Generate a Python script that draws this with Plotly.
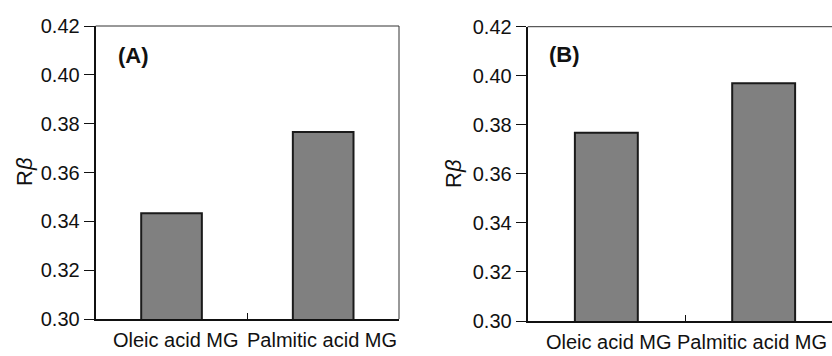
import plotly.graph_objects as go

categories = ["Oleic acid MG", "Palmitic acid MG"]
values_a = [0.3433, 0.3766]
values_b = [0.3768, 0.3969]
panel_labels = ["(A)", "(B)"]
y_title = "R<i>β</i>"
y_ticks = [0.30, 0.32, 0.34, 0.36, 0.38, 0.40, 0.42]
y_ticktext = ["0.30", "0.32", "0.34", "0.36", "0.38", "0.40", "0.42"]

W, H = 832, 356
FONT = "Liberation Sans, Arial, Helvetica, sans-serif"
FS = 20

fig = go.Figure()
for i, vals in enumerate([values_a, values_b]):
    fig.add_trace(go.Bar(
        x=categories, y=vals, width=0.4,
        marker=dict(color="#808080", line=dict(color="#1a1a1a", width=2)),
        xaxis="x" if i == 0 else "x2", yaxis="y" if i == 0 else "y2",
        showlegend=False,
    ))

def px_x(p):
    return p / W

def px_y(p):
    return 1 - p / H

xdom_a = [px_x(95.7), px_x(399)]
xdom_b = [px_x(527.7), 1.0]
ydom_a = [px_y(319), px_y(26)]
ydom_b = [px_y(321), px_y(26.7)]

xcommon = dict(type="category", showline=True, linecolor="#111", linewidth=2,
               ticks="inside", tickson="boundaries", ticklen=6, tickcolor="#111",
               tickwidth=1, showgrid=False, zeroline=False, showticklabels=False,
               automargin=False)
ycommon = dict(range=[0.30, 0.42], showline=True, linecolor="#111", linewidth=2,
               ticks="outside", ticklen=10, tickcolor="#111", tickwidth=1,
               tickvals=y_ticks, ticktext=y_ticktext, showgrid=False, zeroline=False,
               automargin=False,
               tickfont=dict(family=FONT, size=FS, color="#111"))

fig.update_layout(
    width=W, height=H,
    margin=dict(l=0, r=0, t=0, b=0),
    paper_bgcolor="white", plot_bgcolor="white",
    bargap=0.6,
    xaxis=dict(domain=xdom_a, range=[-0.5, 1.5], anchor="y", **xcommon),
    yaxis=dict(domain=ydom_a, anchor="x", **ycommon),
    xaxis2=dict(domain=xdom_b, range=[-0.5, 1.4345], anchor="y2", **xcommon),
    yaxis2=dict(domain=ydom_b, anchor="x2", **ycommon),
)

# thin top/right frame lines
for xr, yr in [("x", "y"), ("x2", "y2")]:
    fig.add_shape(type="line", xref=f"{xr} domain", yref=f"{yr} domain",
                  x0=0, x1=1, y0=1, y1=1, line=dict(color="#333", width=1))
fig.add_shape(type="line", xref="x domain", yref="y domain",
              x0=1, x1=1, y0=0, y1=1, line=dict(color="#333", width=1))

# category labels
shifts = {("x", 0): 4, ("x", 1): -1, ("x2", 0): 3, ("x2", 1): -12}
for xr, yr in [("x", "y"), ("x2", "y2")]:
    for j, cat in enumerate(categories):
        fig.add_annotation(text=cat, xref=xr, yref=f"{yr} domain",
                           x=cat, y=0, yshift=-21, xshift=shifts[(xr, j)],
                           xanchor="center", yanchor="middle", showarrow=False,
                           font=dict(family=FONT, size=FS, color="#111"))

# panel labels
for xr, yr, lab, xx, yy in [("x", "y", panel_labels[0], 0.066, 0.901),
                            ("x2", "y2", panel_labels[1], 0.0635, 0.904)]:
    fig.add_annotation(text=f"<b>{lab}</b>", xref=f"{xr} domain", yref=f"{yr} domain",
                       x=xx, y=yy, xanchor="left", yanchor="middle", showarrow=False,
                       font=dict(family=FONT, size=22, color="#111"))

# y titles
for xpx, ypx in [(24, 172), (453, 174)]:
    fig.add_annotation(text=y_title, xref="paper", yref="paper",
                       x=px_x(xpx), y=px_y(ypx),
                       xanchor="center", yanchor="middle", textangle=-90, showarrow=False,
                       font=dict(family=FONT, size=22, color="#111"))

fig.write_html("out.html", config={"displayModeBar": False},
               post_script="document.body.style.margin='0';document.body.style.overflow='hidden';")
